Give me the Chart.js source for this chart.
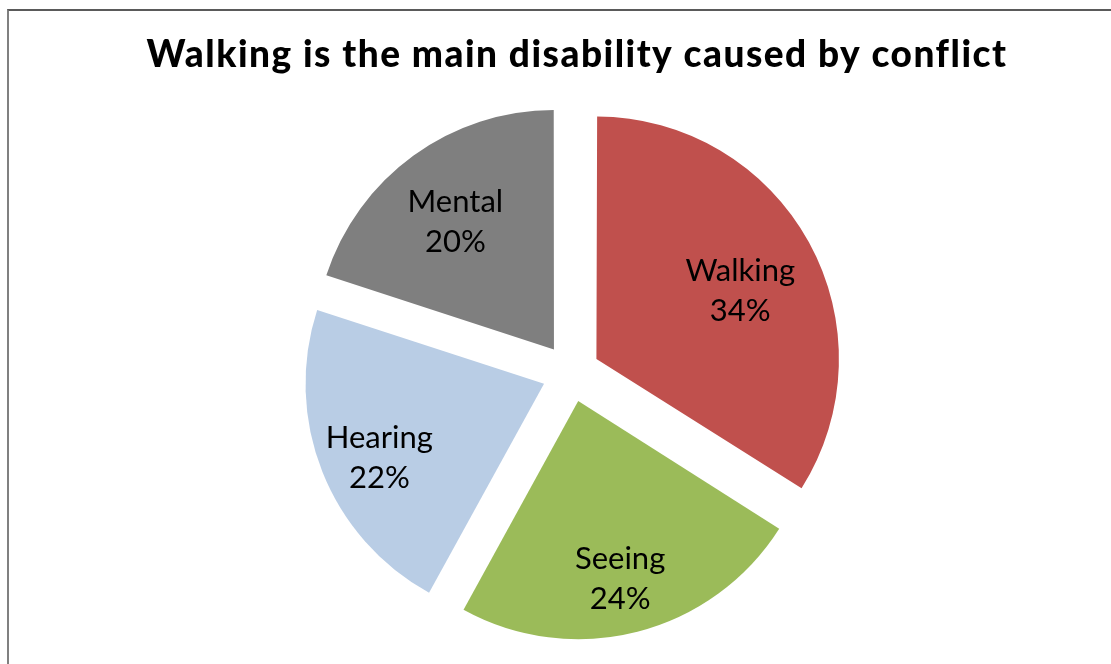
<!DOCTYPE html>
<html>
<head>
<meta charset="utf-8">
<script src="https://cdn.jsdelivr.net/npm/chart.js@4.4.1/dist/chart.umd.min.js"></script>
<style>
  html, body { margin: 0; padding: 0; background: #fff; overflow: hidden; }
  #wrap { position: relative; width: 1111px; height: 664px; }
  #frame {
    position: absolute; left: 7px; top: 9px; width: 1200px; height: 800px;
    border-left: 2px solid #808080; border-top: 2px solid #5a5a5a;
    pointer-events: none;
  }
</style>
</head>
<body>
<div id="wrap">
  <canvas id="grafico" width="1111" height="664"></canvas>
  <div id="frame"></div>
</div>
<script>
// === DATI ===
const titolo = 'Walking is the main disability caused by conflict';
const categorie = ['Walking', 'Seeing', 'Hearing', 'Mental'];
const percentuali = [34, 24, 22, 20];
const colori = ['#C0504D', '#9BBB59', '#B9CDE5', '#7F7F7F'];
// posizione etichette: frazione del raggio e scarto d'angolo (gradi)
const posEtichette = [0.79, 0.89, 0.88, 0.80];
const scartoAngolo = [3, 1, -2.2, -1.4];

// titolo disegnato a mano (serve la spaziatura tra lettere)
const titoloPlugin = {
    id: 'titolo',
    afterDraw(chart) {
        const ctx = chart.ctx;
        ctx.save();
        ctx.fillStyle = '#000';
        ctx.font = '900 37px Lato';
        ctx.letterSpacing = '1.5px';
        ctx.textAlign = 'center';
        ctx.textBaseline = 'alphabetic';
        ctx.fillText(titolo, 577, 67);
        ctx.restore();
    }
};

// etichette dentro le fette
const etichettePlugin = {
    id: 'etichette',
    afterDatasetsDraw(chart) {
        const ctx = chart.ctx;
        const meta = chart.getDatasetMeta(0);
        ctx.save();
        ctx.fillStyle = '#000';
        ctx.font = '31px Lato';
        ctx.textAlign = 'center';
        ctx.textBaseline = 'middle';
        meta.data.forEach((arc, i) => {
            const p = arc.getProps(['x', 'y', 'startAngle', 'endAngle', 'outerRadius'], true);
            const mid = (p.startAngle + p.endAngle) / 2 + scartoAngolo[i] * Math.PI / 180;
            const r = p.outerRadius * posEtichette[i];
            const x = p.x + Math.cos(mid) * r;
            const y = p.y + Math.sin(mid) * r;
            ctx.fillText(categorie[i], x, y - 20);
            ctx.fillText(percentuali[i] + '%', x, y + 20);
        });
        ctx.restore();
    }
};

const ctx = document.getElementById('grafico').getContext('2d');
const chart = new Chart(ctx, {
    type: 'pie',
    data: {
        labels: categorie,
        datasets: [{
            data: percentuali,
            backgroundColor: colori,
            borderWidth: 0,
            offset: 116,
            radius: 238
        }]
    },
    options: {
        responsive: false,
        animation: false,
        layout: { padding: { left: 31, right: 0, top: 85, bottom: 3 } },
        plugins: {
            legend: { display: false },
            tooltip: { enabled: false },
            title: { display: false }
        }
    },
    plugins: [etichettePlugin, titoloPlugin]
});
</script>
</body>
</html>
